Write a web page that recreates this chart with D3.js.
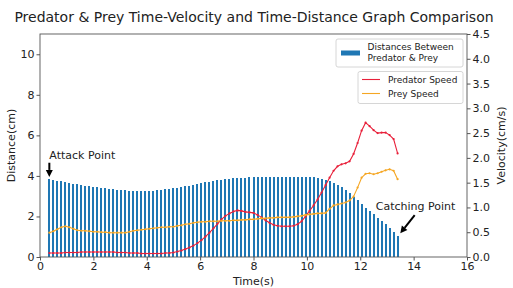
<!DOCTYPE html>
<html lang="en">

<head>
    <meta charset="UTF-8">
    <title>Predator & Prey</title>
    <script src="https://d3js.org/d3.v7.min.js"></script>
    <style>
        body { margin: 0; background: #fff; }
        text { font-family: "DejaVu Sans", sans-serif; fill: #222; }
    </style>
</head>

<body>

    <svg width="513" height="288"></svg>

    <script>

        // Sample times (s)
        const times = [
            0.35, 0.50, 0.65, 0.80, 0.95, 1.10, 1.25, 1.40, 1.55, 1.70, 1.85, 2.00, 2.15, 2.30, 2.45,
            2.60, 2.75, 2.90, 3.05, 3.20, 3.35, 3.50, 3.65, 3.80, 3.95, 4.10, 4.25, 4.40, 4.55, 4.70,
            4.85, 5.00, 5.15, 5.30, 5.45, 5.60, 5.75, 5.90, 6.05, 6.20, 6.35, 6.50, 6.65, 6.80, 6.95,
            7.10, 7.25, 7.40, 7.55, 7.70, 7.85, 8.00, 8.15, 8.30, 8.45, 8.60, 8.75, 8.90, 9.05, 9.20,
            9.35, 9.50, 9.65, 9.80, 9.95, 10.10, 10.25, 10.40, 10.55, 10.70, 10.85, 11.00, 11.15, 11.30, 11.45,
            11.60, 11.75, 11.90, 12.05, 12.20, 12.35, 12.50, 12.65, 12.80, 12.95, 13.10, 13.25, 13.40
        ];

        // Distance between predator & prey (cm)
        const distance = [
            3.83, 3.80, 3.77, 3.73, 3.70, 3.66, 3.62, 3.58, 3.55, 3.52, 3.49, 3.46, 3.44, 3.41, 3.39,
            3.37, 3.34, 3.32, 3.30, 3.29, 3.28, 3.27, 3.27, 3.26, 3.26, 3.27, 3.28, 3.29, 3.31, 3.33,
            3.35, 3.38, 3.41, 3.44, 3.48, 3.52, 3.56, 3.61, 3.65, 3.69, 3.72, 3.75, 3.78, 3.81, 3.84,
            3.86, 3.88, 3.90, 3.91, 3.92, 3.93, 3.94, 3.95, 3.95, 3.96, 3.96, 3.96, 3.96, 3.96, 3.97,
            3.97, 3.97, 3.97, 3.97, 3.97, 3.96, 3.94, 3.91, 3.87, 3.81, 3.73, 3.65, 3.55, 3.44, 3.32,
            3.16, 2.98, 2.79, 2.60, 2.43, 2.26, 2.10, 1.94, 1.78, 1.62, 1.45, 1.25, 1.02
        ];

        // Predator speed (cm/s)
        const predatorSpeed = [
            0.08, 0.08, 0.08, 0.08, 0.09, 0.09, 0.09, 0.09, 0.10, 0.10, 0.10, 0.10, 0.10, 0.10, 0.10,
            0.10, 0.10, 0.09, 0.09, 0.09, 0.08, 0.08, 0.08, 0.07, 0.07, 0.07, 0.07, 0.07, 0.07, 0.08,
            0.08, 0.09, 0.11, 0.13, 0.16, 0.19, 0.23, 0.28, 0.34, 0.41, 0.49, 0.58, 0.67, 0.76, 0.83,
            0.88, 0.92, 0.94, 0.93, 0.91, 0.90, 0.89, 0.85, 0.80, 0.74, 0.69, 0.65, 0.63, 0.62, 0.62,
            0.62, 0.63, 0.66, 0.72, 0.82, 0.93, 1.04, 1.16, 1.30, 1.45, 1.60, 1.74, 1.83, 1.87, 1.89,
            1.93, 2.08, 2.30, 2.55, 2.71, 2.64, 2.56, 2.50, 2.51, 2.51, 2.46, 2.38, 2.09
        ];

        // Prey speed (cm/s)
        const preySpeed = [
            0.49, 0.52, 0.56, 0.60, 0.62, 0.60, 0.57, 0.54, 0.53, 0.53, 0.52, 0.51, 0.51, 0.50, 0.50,
            0.49, 0.49, 0.49, 0.49, 0.49, 0.51, 0.53, 0.54, 0.55, 0.56, 0.57, 0.58, 0.59, 0.60, 0.60,
            0.61, 0.61, 0.63, 0.64, 0.66, 0.67, 0.69, 0.70, 0.71, 0.71, 0.72, 0.72, 0.72, 0.73, 0.73,
            0.73, 0.74, 0.74, 0.75, 0.75, 0.76, 0.76, 0.77, 0.78, 0.78, 0.79, 0.79, 0.80, 0.80, 0.80,
            0.80, 0.81, 0.82, 0.83, 0.85, 0.86, 0.87, 0.88, 0.88, 0.89, 0.97, 1.04, 1.06, 1.08, 1.10,
            1.14, 1.22, 1.40, 1.60, 1.68, 1.69, 1.67, 1.69, 1.72, 1.75, 1.77, 1.74, 1.57
        ];

        const xTicks = [0, 2, 4, 6, 8, 10, 12, 14, 16];
        const yLeftTicks = [0, 2, 4, 6, 8, 10];
        const yRightTicks = [0, 0.5, 1, 1.5, 2, 2.5, 3, 3.5, 4, 4.5];

        const svg = d3.select("svg");
        const margin = { top: 34, right: 46, bottom: 31, left: 40 };
        const width = 513 - margin.left - margin.right;
        const height = 288 - margin.top - margin.bottom;

        const x = d3.scaleLinear().domain([0, 16]).range([margin.left, margin.left + width]);
        const yL = d3.scaleLinear().domain([0, 11]).range([margin.top + height, margin.top]);
        const yR = d3.scaleLinear().domain([0, 4.5]).range([margin.top + height, margin.top]);

        // Distance bars (2px wide, snapped to pixels so every bar looks the same)
        const barPx = 2;
        svg.append("g")
            .attr("shape-rendering", "crispEdges")
            .selectAll("rect")
            .data(times)
            .enter()
            .append("rect")
            .attr("x", (d) => Math.round(x(d) - barPx / 2))
            .attr("width", barPx)
            .attr("y", (d, i) => yL(distance[i]))
            .attr("height", (d, i) => yL(0) - yL(distance[i]))
            .attr("fill", "#1f77b4");

        // Speed lines
        const line = d3.line().x((d) => x(d[0])).y((d) => yR(d[1]));
        const series = [
            { values: predatorSpeed, color: "#e8203a" },
            { values: preySpeed, color: "#f5a623" }
        ];
        series.forEach((s) => {
            const pts = times.map((t, i) => [t, s.values[i]]);
            svg.append("path")
                .datum(pts)
                .attr("d", line)
                .attr("fill", "none")
                .attr("stroke", s.color)
                .attr("stroke-width", 1.1);
            svg.append("g")
                .selectAll("circle")
                .data(pts)
                .enter()
                .append("circle")
                .attr("cx", (d) => x(d[0]))
                .attr("cy", (d) => yR(d[1]))
                .attr("r", 1.1)
                .attr("fill", s.color);
        });

        // Axes
        const axisColor = "#555";
        const xAxis = svg.append("g")
            .attr("transform", `translate(0, ${margin.top + height})`)
            .call(d3.axisBottom(x).tickValues(xTicks).tickFormat(d3.format("d")).tickSize(3.5).tickPadding(2));
        const yAxisL = svg.append("g")
            .attr("transform", `translate(${margin.left}, 0)`)
            .call(d3.axisLeft(yL).tickValues(yLeftTicks).tickFormat(d3.format("d")).tickSize(3.5).tickPadding(2));
        const yAxisR = svg.append("g")
            .attr("transform", `translate(${margin.left + width}, 0)`)
            .call(d3.axisRight(yR).tickValues(yRightTicks).tickFormat(d3.format(".1f")).tickSize(3.5).tickPadding(2));
        [xAxis, yAxisL, yAxisR].forEach((g) => {
            g.select(".domain").remove();
            g.selectAll("line").attr("stroke", axisColor);
            g.selectAll("text").style("font-size", "11px").style("font-family", "DejaVu Sans").attr("fill", "#222");
        });

        // Frame
        svg.append("rect")
            .attr("x", margin.left)
            .attr("y", margin.top)
            .attr("width", width)
            .attr("height", height)
            .attr("fill", "none")
            .attr("stroke", axisColor)
            .attr("stroke-width", 0.9);

        // Title and axis labels
        svg.append("text")
            .attr("x", 254)
            .attr("y", 22)
            .attr("text-anchor", "middle")
            .style("font-size", "14px")
            .text("Predator & Prey Time-Velocity and Time-Distance Graph Comparison");

        svg.append("text")
            .attr("x", margin.left + width / 2)
            .attr("y", 285)
            .attr("text-anchor", "middle")
            .style("font-size", "11px")
            .text("Time(s)");

        svg.append("text")
            .attr("transform", `translate(15, ${margin.top + height / 2}) rotate(-90)`)
            .attr("text-anchor", "middle")
            .style("font-size", "11px")
            .text("Distance(cm)");

        svg.append("text")
            .attr("transform", `translate(505, ${margin.top + height / 2}) rotate(-90)`)
            .attr("text-anchor", "middle")
            .style("font-size", "11px")
            .text("Velocity(cm/s)");

        // Annotations
        function arrow(x1, y1, x2, y2) {
            const ang = Math.atan2(y2 - y1, x2 - x1);
            const hl = 7, hw = 3.5;
            const bx = x2 - hl * Math.cos(ang), by = y2 - hl * Math.sin(ang);
            svg.append("line")
                .attr("x1", x1).attr("y1", y1).attr("x2", bx).attr("y2", by)
                .attr("stroke", "#000").attr("stroke-width", 2);
            svg.append("path")
                .attr("d", `M${x2},${y2}L${bx - hw * Math.sin(ang)},${by + hw * Math.cos(ang)}L${bx + hw * Math.sin(ang)},${by - hw * Math.cos(ang)}Z`)
                .attr("fill", "#000");
        }

        svg.append("text")
            .attr("x", x(0.35))
            .attr("y", yL(4.85))
            .style("font-size", "11px")
            .text("Attack Point");
        arrow(x(0.35), yL(4.65), x(0.35), yL(3.95));

        svg.append("text")
            .attr("x", x(12.58))
            .attr("y", yL(2.3))
            .style("font-size", "11px")
            .text("Catching Point");
        arrow(x(14.04), yL(2.07), x(13.5), yL(1.17));

        // Legend for bars
        const lg1 = svg.append("g").attr("transform", "translate(336, 39)");
        lg1.append("rect")
            .attr("width", 127).attr("height", 28).attr("rx", 2)
            .attr("fill", "#fff").attr("fill-opacity", 0.85)
            .attr("stroke", "#ccc").attr("stroke-width", 0.8);
        lg1.append("rect")
            .attr("x", 5).attr("y", 11.5).attr("width", 19).attr("height", 5)
            .attr("fill", "#1f77b4");
        lg1.append("text").attr("x", 31.5).attr("y", 11).style("font-size", "9px").text("Distances Between");
        lg1.append("text").attr("x", 31.5).attr("y", 22).style("font-size", "9px").text("Predator & Prey");

        // Legend for lines
        const lg2 = svg.append("g").attr("transform", "translate(358, 71.5)");
        lg2.append("rect")
            .attr("width", 105).attr("height", 32).attr("rx", 2)
            .attr("fill", "#fff").attr("fill-opacity", 0.85)
            .attr("stroke", "#ccc").attr("stroke-width", 0.8);
        const lineItems = [
            { label: "Predator Speed", color: "#e8203a" },
            { label: "Prey Speed", color: "#f5a623" }
        ];
        lineItems.forEach((d, i) => {
            const yy = 8 + i * 14;
            lg2.append("line")
                .attr("x1", 4).attr("x2", 22).attr("y1", yy).attr("y2", yy)
                .attr("stroke", d.color).attr("stroke-width", 1.1);
            lg2.append("text").attr("x", 30).attr("y", yy + 3.2).style("font-size", "9px").text(d.label);
        });

    </script>

</body>

</html>
